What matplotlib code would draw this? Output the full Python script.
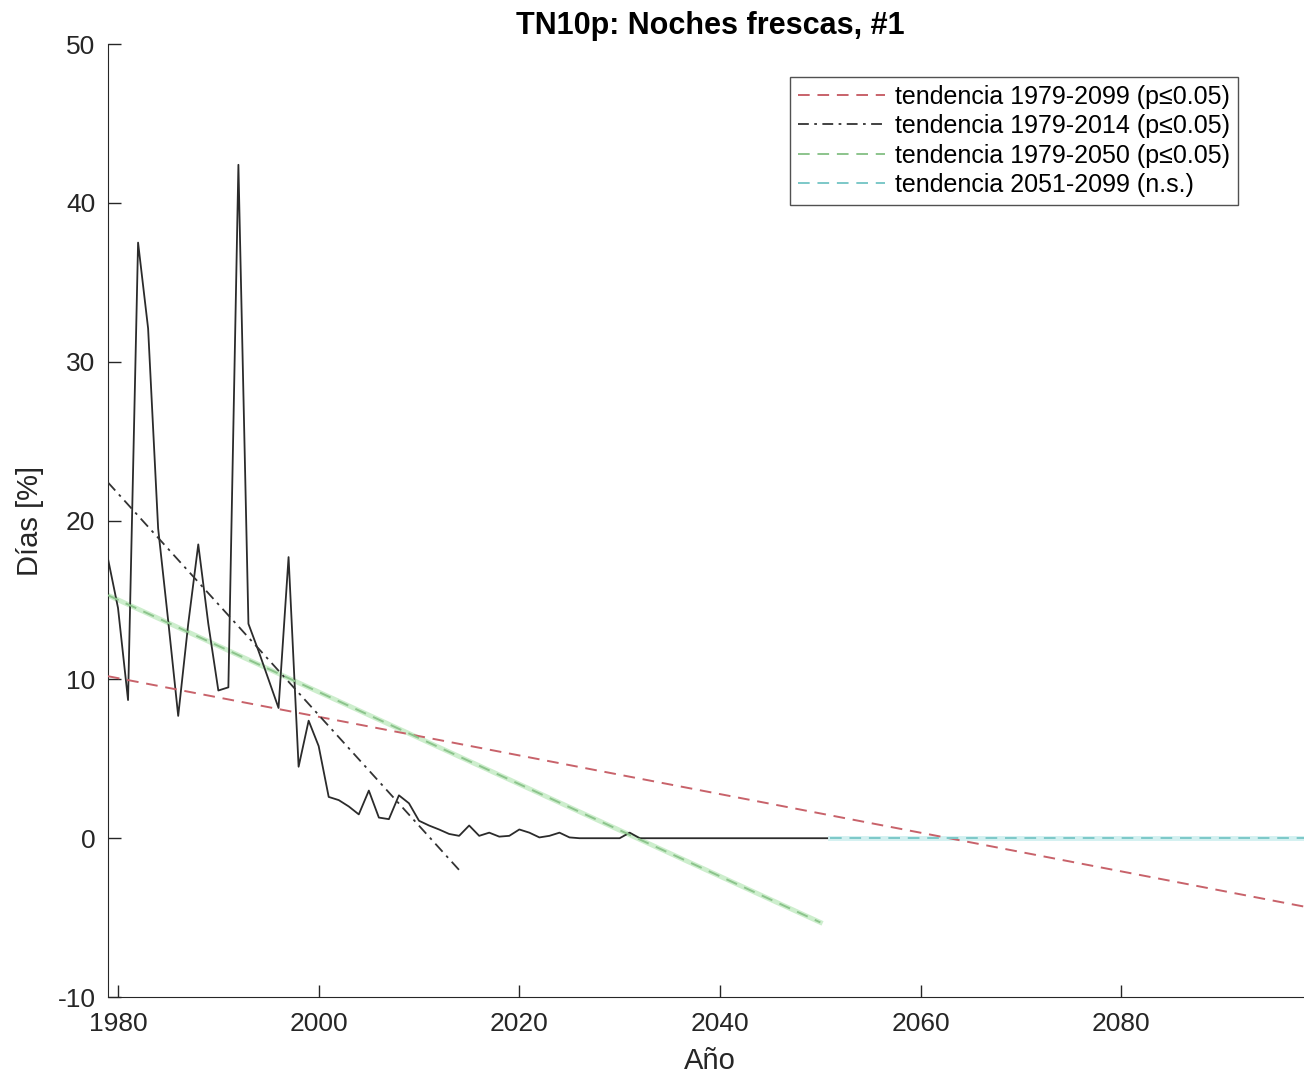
import numpy as np
import matplotlib
matplotlib.use("Agg")
import matplotlib.pyplot as plt

plt.rcParams['font.family'] = ['Liberation Sans', 'DejaVu Sans']
plt.rcParams['axes.unicode_minus'] = False

# TN10p yearly values (%), 1979-2099
years = np.arange(1979, 2100)
vals_early = [17.6, 14.5, 8.7, 37.5, 32.1, 19.5, 13.7, 7.7, 13.5, 18.5,
              13.5, 9.3, 9.5, 42.4, 13.5, 11.8, 10.0, 8.2, 17.7, 4.5,
              7.4, 5.8, 2.6, 2.4, 2.0, 1.5, 3.0, 1.3, 1.2, 2.7,
              2.2, 1.1, 0.8, 0.55, 0.27, 0.15, 0.8, 0.15, 0.35, 0.1,
              0.15, 0.55, 0.35, 0.05, 0.15, 0.35, 0.05, 0.0, 0.0, 0.0,
              0.0, 0.0, 0.35]
values = vals_early + [0.0] * (len(years) - len(vals_early))

# trend lines: (start year, end year, start value, end value)
trend_all = (1979, 2099, 10.2, -4.4)
trend_hist = (1979, 2014, 22.4, -2.0)
trend_near = (1979, 2050, 15.3, -5.3)
trend_far = (2051, 2099, 0.0, 0.0)

labels = ["tendencia 1979-2099 (p\u22640.05)",
          "tendencia 1979-2014 (p\u22640.05)",
          "tendencia 1979-2050 (p\u22640.05)",
          "tendencia 2051-2099 (n.s.)"]

fig = plt.figure(figsize=(13.04, 10.78), dpi=100)
ax = fig.add_axes([0.0828, 0.0751, 0.9233, 0.884])

ax.plot(years, values, color="#2b2b2b", lw=1.3, zorder=2)

def trend(t, **kw):
    x = np.array([t[0], t[1]])
    y = np.array([t[2], t[3]])
    return ax.plot(x, y, **kw)[0]

h1 = trend(trend_all, color="#c8626a", ls=(0, (6, 4)), lw=1.4, zorder=3)
h2 = trend(trend_hist, color="#333333", ls=(0, (6, 3, 1.5, 3)), lw=1.3, zorder=3)
trend(trend_near, color="#cdeecd", ls="-", lw=3.5, zorder=1)
h3 = trend(trend_near, color="#8cc48c", ls=(0, (6, 4)), lw=1.4, zorder=3)
trend(trend_far, color="#d2f0f0", ls="-", lw=3.5, zorder=2.5)
h4 = trend(trend_far, color="#7cc8c8", ls=(0, (6, 4)), lw=1.4, zorder=3)

ax.set_xlim(1979, 2099)
ax.set_ylim(-10, 50)
ax.set_xticks([1980, 2000, 2020, 2040, 2060, 2080])
ax.set_yticks([-10, 0, 10, 20, 30, 40, 50])
ax.tick_params(direction="in", length=9, width=1, labelsize=19, colors="#262626")
ax.tick_params(axis="x", pad=11)
ax.tick_params(axis="y", pad=9)
ax.spines["top"].set_visible(False)
for s in ["left", "bottom", "right"]:
    ax.spines[s].set_color("#262626")

ax.set_title("TN10p: Noches frescas, #1", fontsize=22, fontweight="bold", pad=7)
ax.set_xlabel("A\u00f1o", fontsize=21, color="#262626", labelpad=8)
ax.set_ylabel("D\u00edas [%]", fontsize=21, color="#262626", labelpad=10)

leg = ax.legend([h1, h2, h3, h4], labels, loc="upper right",
                bbox_to_anchor=(0.9385, 0.9654), borderaxespad=0,
                fontsize=18, handlelength=3.5, handletextpad=0.4,
                frameon=True, fancybox=False, borderpad=0.3,
                edgecolor="#262626", labelspacing=0.22)
leg.get_frame().set_linewidth(1.0)

fig.savefig("out.png", dpi=100)
